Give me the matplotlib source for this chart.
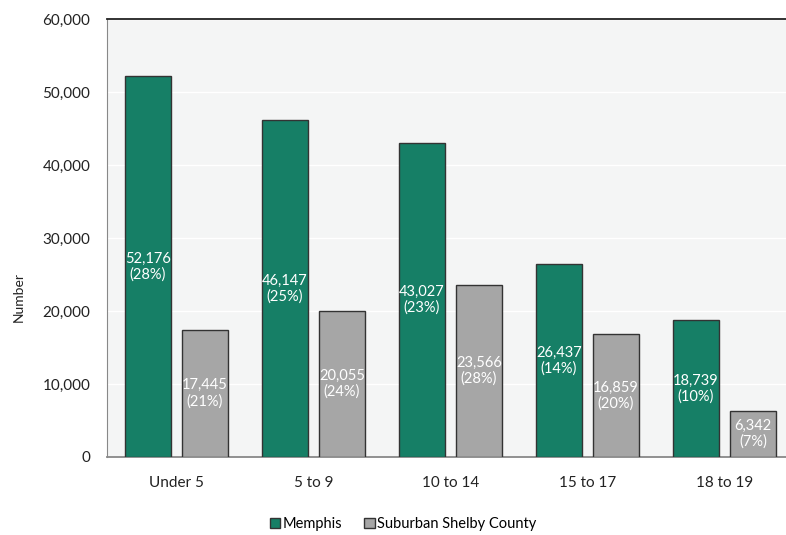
import numpy as np
import matplotlib.pyplot as plt
from matplotlib.ticker import FuncFormatter

# age groups and counts
groups = ['Under 5', '5 to 9', '10 to 14', '15 to 17', '18 to 19']
memphis = [52176, 46147, 43027, 26437, 18739]
memphis_pct = [28, 25, 23, 14, 10]
suburban = [17445, 20055, 23566, 16859, 6342]
suburban_pct = [21, 24, 28, 20, 7]

green = '#167f66'
grey = '#a6a6a6'

plt.rcParams['font.family'] = ['Lato', 'DejaVu Sans']

fig = plt.figure(figsize=(7.86, 5.35), dpi=100)
ax = fig.add_axes([107/786, 1-457/535, 686/786, 438/535])
ax.set_facecolor('#f4f5f5')

x = np.arange(len(groups))
w = 0.336
off = 0.208
b1 = ax.bar(x - off, memphis, w, color=green, edgecolor='#333333', linewidth=1, label='Memphis', zorder=3)
b2 = ax.bar(x + off, suburban, w, color=grey, edgecolor='#333333', linewidth=1, label='Suburban Shelby County', zorder=3)

for rect, v, p in zip(b1, memphis, memphis_pct):
    ax.text(rect.get_x() + rect.get_width()/2, v/2, f'{v:,}\n({p}%)', ha='center', va='center',
            color='white', fontsize=10.5, linespacing=1.15, zorder=4)
for rect, v, p in zip(b2, suburban, suburban_pct):
    ax.text(rect.get_x() + rect.get_width()/2, v/2, f'{v:,}\n({p}%)', ha='center', va='center',
            color='white', fontsize=10.5, linespacing=1.15, zorder=4)

ax.set_xlim(-0.507, 4.5)
ax.set_ylim(0, 60000)
ax.set_yticks(np.arange(0, 60001, 10000))
ax.yaxis.set_major_formatter(FuncFormatter(lambda v, _: f'{int(v):,}'))
ax.set_xticks(x)
ax.set_xticklabels(groups)
ax.tick_params(axis='both', length=0, labelsize=11, colors='#222222')
ax.tick_params(axis='x', pad=14)
ax.tick_params(axis='y', pad=12)
ax.grid(axis='y', color='white', linewidth=1, zorder=0)

ax.spines['top'].set_color('#222222')
ax.spines['top'].set_linewidth(1.3)
ax.spines['left'].set_color('#888888')
ax.spines['bottom'].set_color('#888888')
ax.spines['bottom'].set_linewidth(1.3)
ax.spines['right'].set_visible(False)

fig.text(0.024, 0.445, 'Number', rotation=90, ha='center', va='center', fontsize=10, color='#222222')

fig.legend(handles=[b1, b2], loc='center', bbox_to_anchor=(0.513, 0.02), ncol=2, frameon=False,
           fontsize=10.5, handlelength=0.7, handleheight=0.7, handletextpad=0.2, columnspacing=1.5)

fig.savefig('out.png', dpi=100)
